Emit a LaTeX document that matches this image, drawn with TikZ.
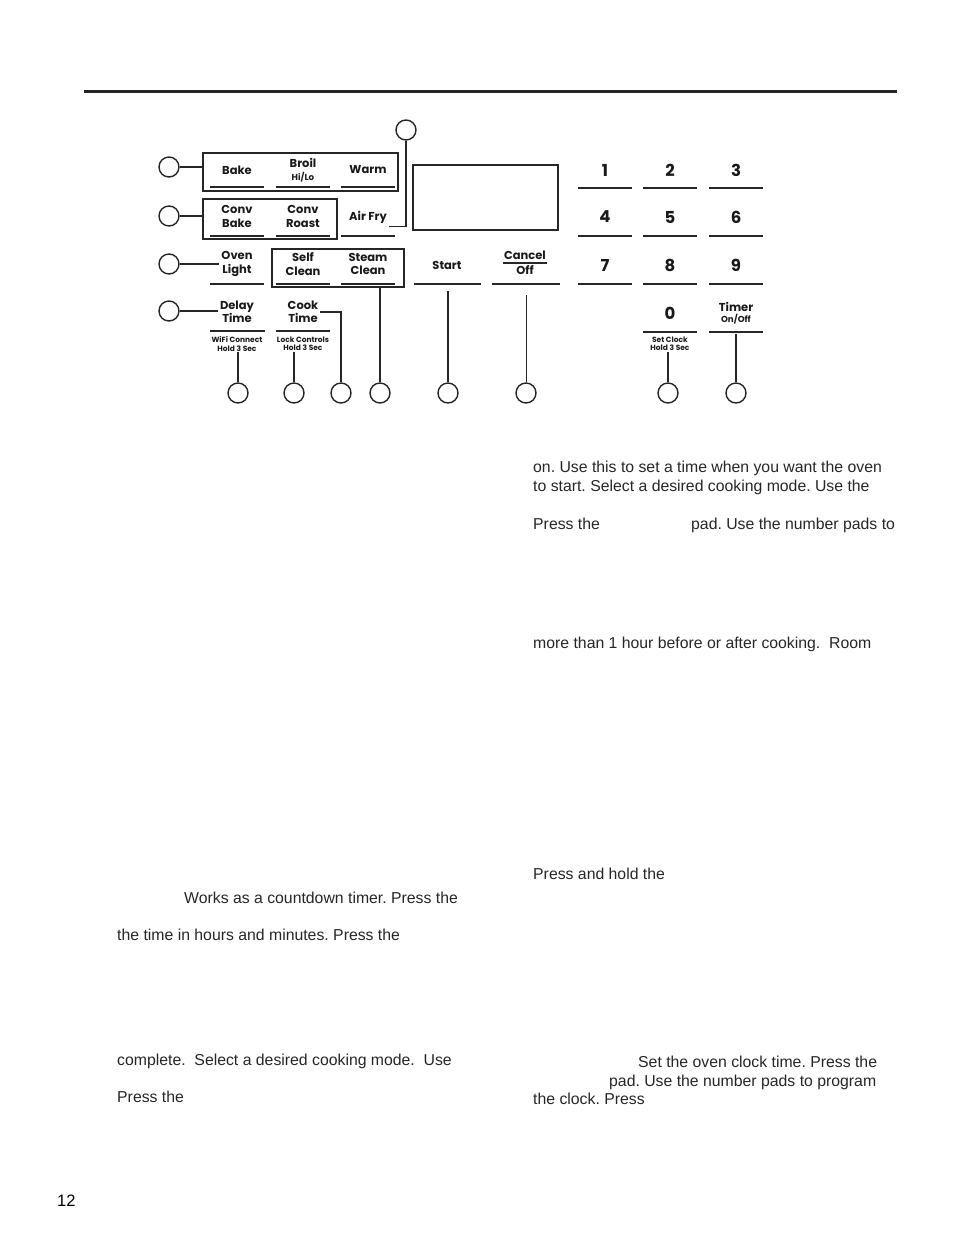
\documentclass[tikz,border=0pt]{standalone}
\usepackage{fontspec}
\setmainfont{Liberation Sans}
\newfontfamily\padfont{Poppins}
\usetikzlibrary{positioning,calc}
\tikzset{
  rule/.style     = {draw=black!85, line width=3pt},
  frame/.style    = {draw=black!85, line width=1.8pt, inner sep=0pt},
  screen/.style   = {draw=black!85, line width=1.2pt, inner sep=0pt},
  uline/.style    = {draw=black!85, line width=1.1pt},
  uthick/.style   = {draw=black!85, line width=2.3pt},
  lead/.style     = {draw=black!85, line width=1.3pt},
  leadb/.style    = {draw=black!85, line width=2pt},
  callout/.style  = {circle, draw=black!85, line width=1.4pt, minimum size=20pt, inner sep=0pt},
  key/.style      = {font=\padfont\bfseries\fontsize{11.5}{13.5}\selectfont, align=center, inner sep=2pt, text=black!90},
  keysub/.style   = {font=\padfont\bfseries\fontsize{7.5}{8.2}\selectfont, align=center, inner sep=1pt, text=black!90},
  digit/.style    = {font=\padfont\bfseries\fontsize{16.5}{16.5}\selectfont, inner sep=0pt, text=black!90},
  body/.style     = {font=\fontsize{15.8}{17}\selectfont, anchor=base west, inner sep=0pt, text=black!85},
}
\newcommand{\subsz}{\fontsize{8.7}{9.5}\selectfont}

\begin{document}
\frenchspacing
\begin{tikzpicture}[x=1pt,y=-1pt]
  \useasboundingbox (0,0) rectangle (954,1235);
  \draw[rule] (84,91) -- (897,91);

  % framed groups and display
  \node[frame, minimum width=195pt, minimum height=38pt] (grpA) at (300.5,172) {};
  \node[frame, minimum width=134pt, minimum height=40pt] (grpB) at (270,219) {};
  \node[frame, minimum width=132pt, minimum height=38pt] (grpC) at (338,268) {};
  \node[screen, minimum width=145pt, minimum height=65pt] (disp) at (485.5,197.5) {};

  % mode pads
  \node[key] (bake)   at (237,170) {Bake};
  \node[key] (broil)  at (303,170) {Broil\\[-1pt]{\subsz Hi/Lo}};
  \node[key] (warm)   at (368,170) {Warm};
  \node[key] (cvbake) at (237,216.5) {Conv\\Bake};
  \node[key] (cvrst)  at (303,216.5) {Conv\\Roast};
  \node[key] (airfry) at (368,217) {Air Fry};
  \node[key] (oven)   at (237,264) {Oven\\Light};
  \node[key] (self)   at (303,264) {Self\\Clean};
  \node[key] (steam)  at (368,264) {Steam\\Clean};
  \node[key] (delay)  at (237,312) {Delay\\Time};
  \node[key] (cook)   at (303,312) {Cook\\Time};
  \node[keysub] (wifi) at (237,344) {WiFi Connect\\Hold 3 Sec};
  \node[keysub] (lock) at (303,344) {Lock Controls\\Hold 3 Sec};
  \node[key] (start)  at (447,265) {Start};
  \node[key, inner xsep=1pt, inner ysep=3.5pt] (cancel) at (525,255) {Cancel};
  \node[key, inner sep=1pt, below=1pt of cancel] (off) {Off};
  \draw[uline] (cancel.south west) -- (cancel.south east);

  % number pads
  \foreach \d/\x/\y in {1/605/170, 2/670/170, 3/736/170,
                        4/605/217, 5/670/217, 6/736/217,
                        7/605/265, 8/670/265, 9/736/265, 0/670/313} {
    \node[digit] (d\d) at (\x,\y) {\d};
  }
  \node[key] (timer) at (736,313) {Timer\\[-2pt]{\subsz On/Off}};
  \node[keysub] (setclk) at (670,344) {Set Clock\\Hold 3 Sec};

  % pad underlines
  \foreach \y in {187,236,284} {
    \foreach \x in {237,303,368} {
      \draw[uline] (\x-27,\y) -- (\x+27,\y);
    }
  }
  \foreach \y in {188,236,284} {
    \foreach \x in {605,670,736} {
      \draw[uline] (\x-27,\y) -- (\x+27,\y);
    }
  }
  \draw[uline] (414,284) -- (481,284);
  \draw[uline] (492,284) -- (560,284);
  \draw[uline] (210,331) -- (265,331);
  \draw[uline] (276,331) -- (330,331);
  \draw[uthick] (643,332) -- (697,332);
  \draw[uthick] (709,332) -- (763,332);

  % callout circles
  \foreach \n/\y in {1/167, 2/216, 3/264, 4/311} {
    \node[callout] (cl\n) at (169,\y) {};
  }
  \node[callout] (cair) at (406,130) {};
  \foreach \n/\x in {dly/238, lck/294, cok/341, stm/380, sta/448, can/526, zro/668, tmr/736} {
    \node[callout] (cb\n) at (\x,393) {};
  }
  \coordinate (startpt) at (448,291);
  \coordinate (cancelpt) at (526,295);
  \coordinate (timerpt) at (736,334);

  % leaders
  \draw[lead] (cl1) -- (cl1 -| grpA.west);
  \draw[lead] (cl2) -- (cl2 -| grpB.west);
  \draw[lead] (cl3) -- (oven.west |- cl3);
  \draw[lead] (cl4) -- (delay.west |- cl4);
  \draw[lead] ($(airfry.south east)+(0,1)$) -| (cair.south);
  \draw[lead] (cook.east) -| (cbcok.north);
  \draw[lead] (cbstm.north) -- (cbstm.north |- grpC.south);
  \draw[lead] (cbdly.north) -- (cbdly.north |- wifi.south);
  \draw[lead] (cblck.north) -- (cblck.north |- lock.south);
  \draw[leadb] (cbsta.north) -- (startpt);
  \draw[draw=black!85, line width=1pt] (cbcan.north) -- (cancelpt);
  \draw[lead] (cbzro.north) -- (cbzro.north |- setclk.south);
  \draw[lead] (cbtmr.north) -- (timerpt);

  % text fragments
  \node[body] (r1) at (533,472) {on. Use this to set a time when you want the oven};
  \node[body] (r2) at (533,491) {to start. Select a desired cooking mode. Use the};
  \node[body] (r3) at (533,529) {Press the};
  \node[body] (r4) at (691,529) {pad. Use the number pads to};
  \node[body] (r5) at (533,648) {more than 1 hour before or after cooking.\ \ Room};
  \node[body] (r6) at (533,879) {Press and hold the};
  \node[body] (r7) at (638,1067) {Set the oven clock time. Press the};
  \node[body] (r8) at (609,1086) {pad. Use the number pads to program};
  \node[body] (r9) at (533,1104) {the clock. Press};
  \node[body] (l1) at (184,903) {Works as a countdown timer. Press the};
  \node[body] (l2) at (117,940) {the time in hours and minutes. Press the};
  \node[body] (l3) at (117,1065) {complete.\ \ Select a desired cooking mode.\ \ Use};
  \node[body] (l4) at (117,1102) {Press the};
  \node[body, font=\fontsize{16.5}{18}\selectfont, text=black] (pg) at (57,1206) {12};
\end{tikzpicture}
\end{document}
